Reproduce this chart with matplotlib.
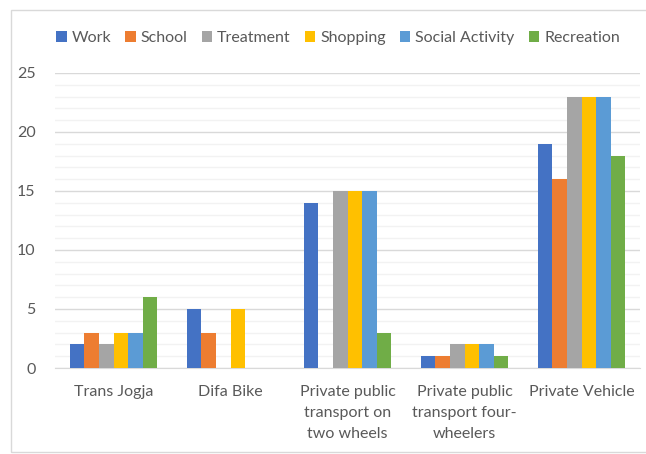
import matplotlib.pyplot as plt
from matplotlib.patches import Rectangle
import numpy as np

# Trip purposes by transport mode
categories = ['Trans Jogja', 'Difa Bike', 'Private public\ntransport on\ntwo wheels',
              'Private public\ntransport four-\nwheelers', 'Private Vehicle']
series_names = ['Work', 'School', 'Treatment', 'Shopping', 'Social Activity', 'Recreation']
work = [2, 5, 14, 1, 19]
school = [3, 3, 0, 1, 16]
treatment = [2, 0, 15, 2, 23]
shopping = [3, 5, 15, 2, 23]
social_activity = [3, 0, 15, 2, 23]
recreation = [6, 0, 3, 1, 18]
series_values = [work, school, treatment, shopping, social_activity, recreation]
colors = ['#4472C4', '#ED7D31', '#A5A5A5', '#FFC000', '#5B9BD5', '#70AD47']

plt.rcParams['font.family'] = ['Lato', 'DejaVu Sans']
text_color = '#595959'
fs = 11.5

fig = plt.figure(figsize=(6.46, 4.54), dpi=100)
ax = fig.add_axes([55 / 646, 1 - 368 / 454, 585 / 646, 295 / 454])

x = np.arange(len(categories))
n = len(series_names)
bar_w = 0.75 / n
for i, (name, vals, c) in enumerate(zip(series_names, series_values, colors)):
    offs = (i - (n - 1) / 2) * bar_w
    ax.bar(x + offs, vals, width=bar_w, color=c, label=name, zorder=3)

ax.set_xlim(-0.5, len(categories) - 0.5)
ax.set_ylim(0, 25)
ax.set_yticks(range(0, 26, 5))
ax.set_yticks(range(0, 26), minor=True)
ax.grid(axis='y', which='major', color='#d9d9d9', linewidth=1, zorder=0)
ax.grid(axis='y', which='minor', color='#f2f2f2', linewidth=1, zorder=0)
ax.set_axisbelow(True)

ax.set_xticks(x)
ax.set_xticklabels(categories, fontsize=fs, color=text_color, linespacing=1.65, va='top')
ax.tick_params(axis='both', which='both', length=0, labelsize=fs, labelcolor=text_color)
ax.tick_params(axis='x', pad=12)
ax.tick_params(axis='y', pad=14)

for s in ['left', 'right', 'top']:
    ax.spines[s].set_visible(False)
ax.spines['bottom'].set_color('#d9d9d9')

leg = fig.legend(loc='center', bbox_to_anchor=(338 / 646, 1 - 38 / 454), ncol=n,
                 frameon=False, fontsize=fs, handlelength=0.65, handleheight=0.65,
                 handletextpad=0.3, columnspacing=0.9)
for t in leg.get_texts():
    t.set_color(text_color)

# light chart-area border
fig.patches.append(Rectangle((11 / 646, 2 / 454), 1.0, 442 / 454, transform=fig.transFigure,
                             fill=False, edgecolor='#d9d9d9', linewidth=1))

fig.savefig('out.png', dpi=100)
